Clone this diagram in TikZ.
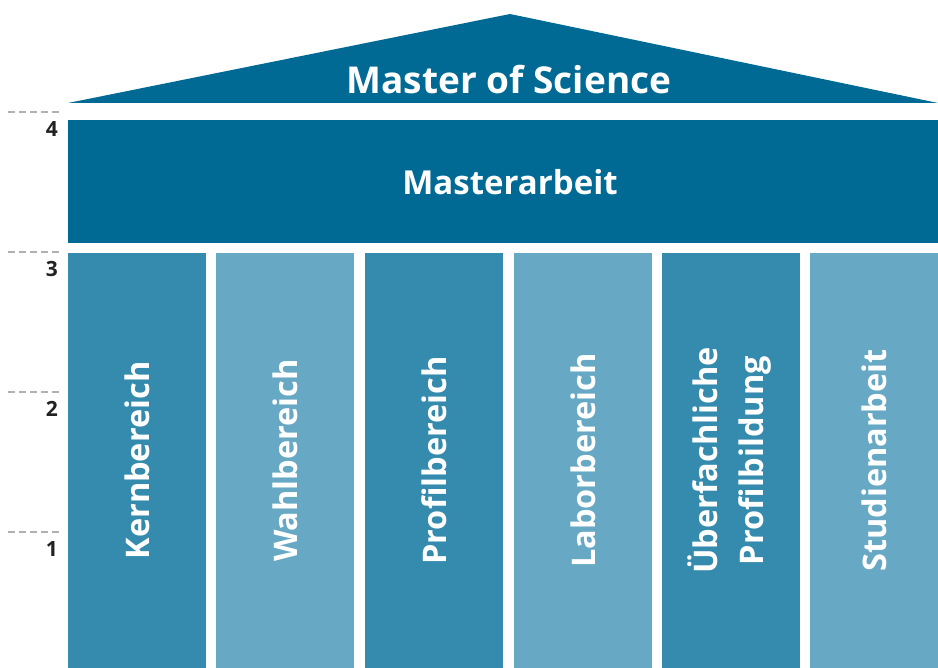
\documentclass[tikz,border=0pt]{standalone}
\usepackage{fontspec}
\setmainfont{Open Sans}
\usetikzlibrary{positioning}
\definecolor{roofblue}{HTML}{006A95}
\definecolor{coldark}{HTML}{348BAD}
\definecolor{collight}{HTML}{67A9C4}
\definecolor{scalegray}{HTML}{B0B0B0}
\definecolor{numdark}{HTML}{222222}
\tikzset{
  bar/.style={fill=roofblue, inner sep=0pt},
  bartext/.style={inner sep=0pt, text=white, font=\bfseries\fontsize{33}{36}\selectfont},
  pillar/.style={inner sep=0pt, text=white, minimum height=415pt, font=\bfseries\fontsize{32.5}{46}\selectfont},
  scaleline/.style={draw=scalegray, line width=2.5pt, dash pattern=on 7pt off 4pt},
  num/.style={anchor=north east, inner sep=0pt, text=numdark, font=\bfseries\fontsize{21}{21}\selectfont}
}
\begin{document}
\begin{tikzpicture}[x=1pt,y=-1pt]
\useasboundingbox (0,0) rectangle (938,668);
% roof
\fill[roofblue] (68,103) -- (510,14) -- (938,103) -- cycle;
\node[text=white, inner sep=0pt, font=\bfseries\fontsize{37}{40}\selectfont] (roof) at (509,80) {Master of Science};
% masterarbeit
\node[bar, minimum width=870pt, minimum height=123pt] (ma) at (503,181.5) {};
\node[bartext] (matext) at (510,182) {Masterarbeit};
% pillars
\node[pillar, fill=coldark, minimum width=138pt] (c1) at (137,460.5) {\rotatebox{90}{Kernbereich}};
\node[pillar, fill=collight, minimum width=138pt] (c2) at (285,460.5) {\rotatebox{90}{Wahlbereich}};
\node[pillar, fill=coldark, minimum width=138pt] (c3) at (434,460.5) {\rotatebox{90}{Profilbereich}};
\node[pillar, fill=collight, minimum width=138pt] (c4) at (583,460.5) {\rotatebox{90}{Laborbereich}};
\node[pillar, fill=coldark, minimum width=138pt] (c5) at (731,460.5) {\rotatebox{90}{\begin{tabular}{@{}c@{}}Überfachliche\\Profilbildung\end{tabular}}};
\node[pillar, fill=collight, minimum width=128pt] (c6) at (874,460.5) {\rotatebox{90}{Studienarbeit}};
% scale
\foreach \y/\n in {112/4,252/3,392/2,532/1}{
  \coordinate (s\n a) at (8,\y);
  \coordinate (s\n b) at (60,\y);
  \draw[scaleline] (s\n a) -- (s\n b);
  \node[num] (n\n) at (58,\y+9) {\n};
}
\end{tikzpicture}
\end{document}
